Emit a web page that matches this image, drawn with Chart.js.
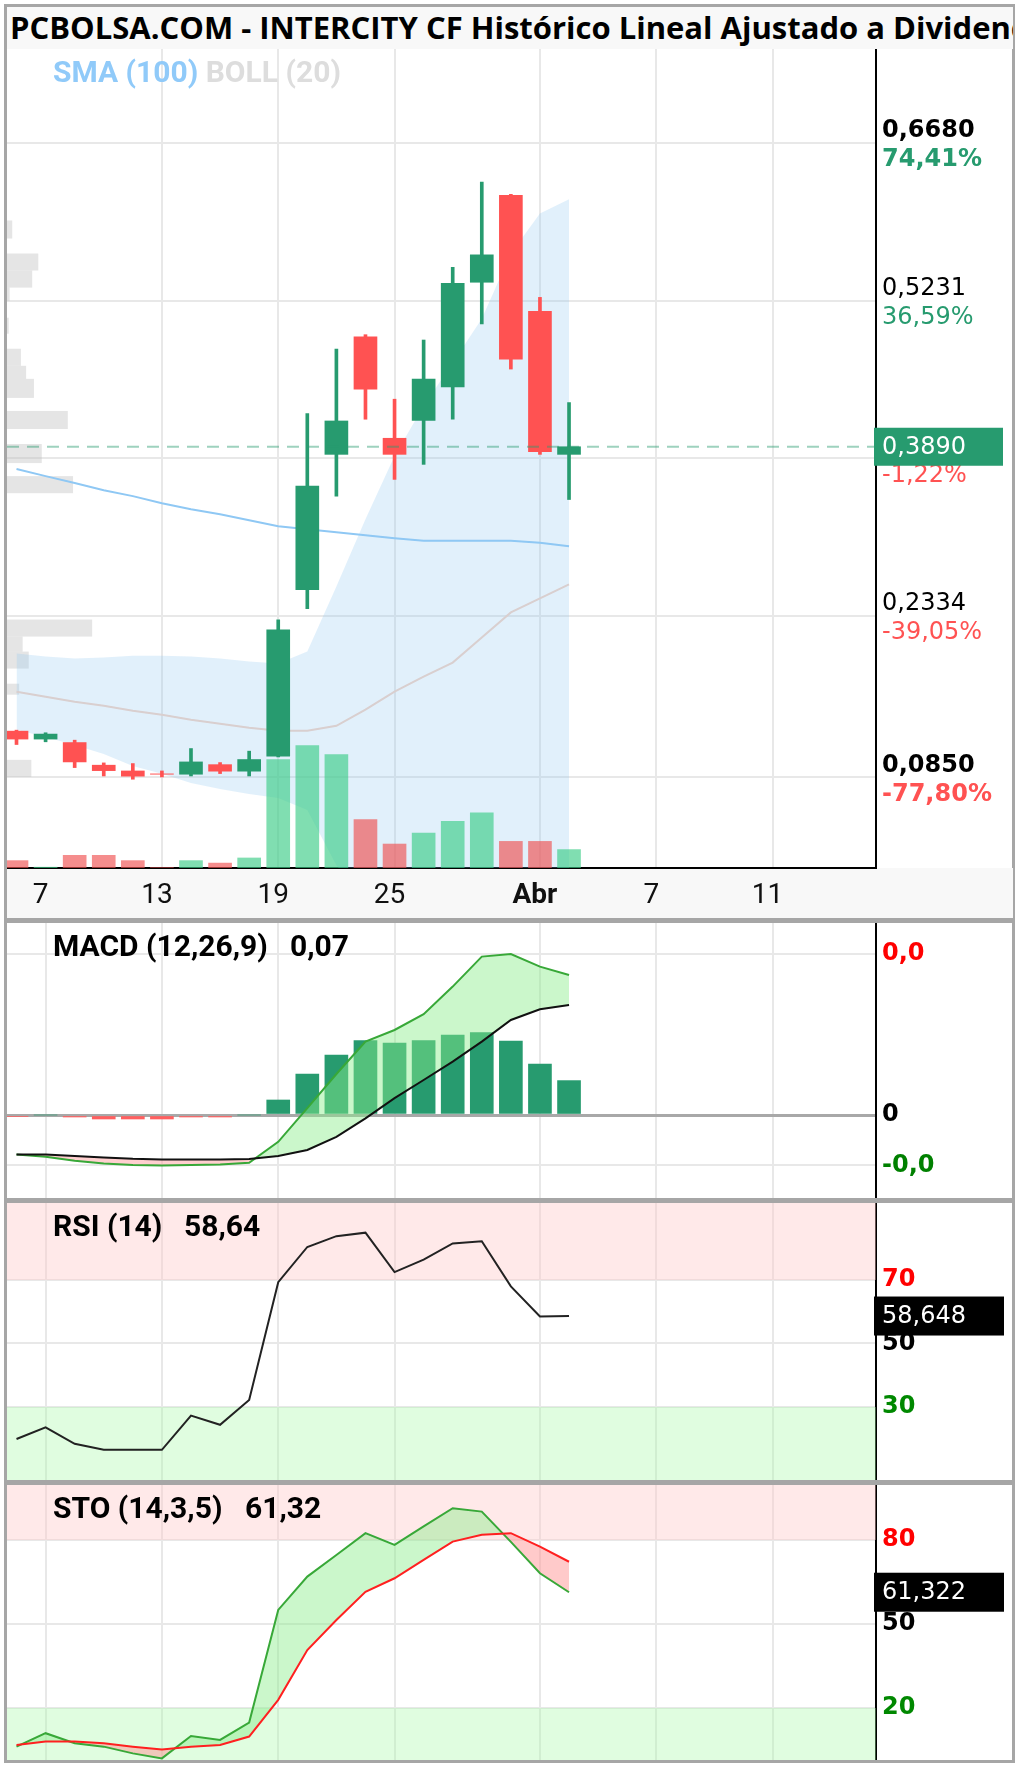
<!DOCTYPE html>
<html>
<head>
<meta charset="utf-8">
<script src="https://cdn.jsdelivr.net/npm/chart.js@4.4.1/dist/chart.umd.min.js"></script>
<style>
  body { margin: 0; background: #fff; width: 1020px; height: 1767px; position: relative; overflow: hidden; }
  .abs { position: absolute; }
  #frame { left: 4px; top: 4px; width: 1011px; height: 1759px; box-sizing: border-box; border: 3px solid #a6a6a6; }
  .sep { left: 4px; width: 1011px; height: 5px; background: #a6a6a6; }
  #title { left: 7px; top: 7px; width: 1006px; height: 42px; background: #f8f8f8; font: bold 31px 'Open Sans'; line-height: 40px;
           white-space: nowrap; overflow: hidden; padding-left: 3px; box-sizing: border-box; color: #000; }
  canvas { position: absolute; left: 7px; }
</style>
</head>
<body>
<div id="frame" class="abs"></div>
<div id="title" class="abs">PCBOLSA.COM - INTERCITY CF Histórico Lineal Ajustado a Dividendos</div>
<canvas id="mainChart" width="1006" height="869" style="top:49px"></canvas>
<div class="abs sep" style="top:918px"></div>
<canvas id="macdChart" width="1006" height="275" style="top:923px"></canvas>
<div class="abs sep" style="top:1198px"></div>
<canvas id="rsiChart" width="1006" height="277" style="top:1203px"></canvas>
<div class="abs sep" style="top:1480px"></div>
<canvas id="stoChart" width="1006" height="275" style="top:1485px"></canvas>

<script>
// ** Data
const dates = ['6 Mar', '7 Mar', '8 Mar', '11 Mar', '12 Mar', '13 Mar', '14 Mar', '15 Mar', '18 Mar', '19 Mar',
  '20 Mar', '21 Mar', '22 Mar', '25 Mar', '26 Mar', '27 Mar', '28 Mar', '29 Mar', '1 Abr', '2 Abr']
const open = [0.1276, 0.1203, 0.1171, 0.0963, 0.0910, 0.0883, 0.0880, 0.0968, 0.0908, 0.1046,
  0.2576, 0.3820, 0.4901, 0.3968, 0.4133, 0.4440, 0.5402, 0.6201, 0.5134, 0.3820]
const close = [0.1203, 0.1249, 0.0993, 0.0913, 0.0862, 0.0880, 0.0993, 0.0908, 0.1015, 0.2207,
  0.3528, 0.4127, 0.4419, 0.3820, 0.4511, 0.5392, 0.5654, 0.4696, 0.3844, 0.3890]
const high = [0.1285, 0.1261, 0.1193, 0.0984, 0.0978, 0.0910, 0.1116, 0.0987, 0.1092, 0.2299,
  0.4194, 0.4788, 0.4920, 0.4327, 0.4871, 0.5540, 0.6323, 0.6210, 0.5263, 0.4296]
const low = [0.1153, 0.1178, 0.0941, 0.0864, 0.0834, 0.0855, 0.0864, 0.0886, 0.0864, 0.1040,
  0.2401, 0.3436, 0.4143, 0.3590, 0.3728, 0.4143, 0.5018, 0.4604, 0.3820, 0.3405]
const volume = [36, 4, 62, 62, 36, 2, 36, 24, 49, 529, 598, 554, 236, 117, 171, 228, 269, 130, 130, 90]

const sma100 = [0.3685, 0.3620, 0.3556, 0.3491, 0.3436, 0.3371, 0.3316, 0.3270, 0.3215, 0.3159,
  0.3132, 0.3104, 0.3076, 0.3049, 0.3026, 0.3026, 0.3026, 0.3026, 0.3007, 0.2975]
const bollUp = [0.1989, 0.1961, 0.1943, 0.1952, 0.1970, 0.1970, 0.1961, 0.1943, 0.1915, 0.1897,
  0.2008, 0.2606, 0.3224, 0.3804, 0.4265, 0.4662, 0.5067, 0.5666, 0.6035, 0.6164]
const bollMid = [0.1639, 0.1592, 0.1546, 0.1509, 0.1463, 0.1427, 0.1380, 0.1344, 0.1307, 0.1279,
  0.1279, 0.1325, 0.1473, 0.1639, 0.1777, 0.1906, 0.2136, 0.2367, 0.2496, 0.2625]
const bollLow = [0.1289, 0.1223, 0.1149, 0.1066, 0.0956, 0.0884, 0.0799, 0.0745, 0.0699, 0.0661,
  0.0550, 0.0044, -0.0278, -0.0526, -0.0711, -0.0850, -0.0795, -0.0932, -0.1043, -0.0914]

// volume profile by price band
const profLow = [0.5804, 0.5510, 0.5353, 0.5233, 0.4929, 0.4634, 0.4514, 0.4339, 0.4053, 0.3740,
  0.3463, 0.2145, 0.2007, 0.1851, 0.1611, 0.0855]
const profHigh = [0.5970, 0.5666, 0.5510, 0.5353, 0.5076, 0.4791, 0.4634, 0.4514, 0.4219, 0.3915,
  0.3620, 0.2302, 0.2145, 0.2007, 0.1712, 0.1012]
const profVol = [6, 36, 29, 3, 2, 16, 22, 31, 70, 40, 76, 98, 18, 25, 14, 28]

const priceTicks = [0.6680, 0.5231, 0.3783, 0.2334, 0.0850]
const priceText = ['0,6680', '0,5231', '0,3783', '0,2334', '0,0850']
const pctText = ['74,41%', '36,59%', '-1,22%', '-39,05%', '-77,80%']

const macd = [-0.0197, -0.0209, -0.0229, -0.0242, -0.0250, -0.0252, -0.0250, -0.0247, -0.0239, -0.0134,
  0.0034, 0.0205, 0.0367, 0.0425, 0.0504, 0.0642, 0.0792, 0.0805, 0.0742, 0.0700]
const signal = [-0.0197, -0.0197, -0.0205, -0.0212, -0.0219, -0.0222, -0.0222, -0.0222, -0.0220, -0.0205,
  -0.0175, -0.0109, -0.0017, 0.0084, 0.0175, 0.0267, 0.0367, 0.0475, 0.0529, 0.0550]
const hist = [-0.0008, 0, -0.0010, -0.0020, -0.0020, -0.0020, -0.0010, -0.0010, 0, 0.0075,
  0.0204, 0.0300, 0.0372, 0.0359, 0.0372, 0.0400, 0.0412, 0.0370, 0.0255, 0.0172]
const macdText = ['-0,0', '0', '0,0']

const rsi = [19.9, 23.6, 18.4, 16.5, 16.5, 16.5, 27.3, 24.4, 32.2, 69.3,
  80.4, 83.8, 84.9, 72.5, 76.4, 81.5, 82.2, 68.0, 58.5, 58.648]
const rsiLevels = [30, 50, 70]

const stoK = [6.2, 11.0, 7.4, 6.2, 3.8, 2.0, 10.0, 8.6, 14.8, 55.0,
  66.9, 74.6, 82.4, 78.2, 84.8, 91.3, 90.1, 79.3, 68.1, 61.322]
const stoD = [6.8, 8.0, 8.0, 7.4, 6.2, 5.2, 6.2, 6.8, 9.8, 22.9,
  40.7, 51.4, 61.5, 66.3, 72.9, 79.4, 81.8, 82.4, 77.6, 72.2]
const stoLevels = [20, 50, 80]

const tickPos = [1, 5, 9, 13, 18, 22, 26]
const tickLabels = ['7', '13', '19', '25', 'Abr', '7', '11']

// ** Styles
const GREEN = '#279b6f'
const RED = '#ff5252'
const xMin = -0.327
const xMax = 29.556
const AXIS_W = 137
const LABEL_FONT = 'bold 30px Roboto'
const pts = arr => arr.map((y, x) => ({ x, y }))
const flat = v => [{ x: xMin, y: v }, { x: xMax, y: v }]
const comma = (v, d) => v.toFixed(d).replace('.', ',')
const trunc2 = v => (Math.floor(v * 100) / 100).toFixed(2).replace('.', ',')

Chart.defaults.animation = false
Chart.defaults.responsive = false
Chart.defaults.devicePixelRatio = 1
Chart.defaults.plugins.legend.display = false
Chart.defaults.plugins.tooltip.enabled = false

const up = close.map((c, i) => c >= open[i])
const candleColors = up.map(u => (u ? GREEN : RED))
const volColors = up.map(u => (u ? 'rgba(60,205,135,0.65)' : 'rgba(240,80,80,0.65)'))

// no label padding: chart area fills the panel
const noPad = s => { s.paddingTop = 0; s.paddingBottom = 0; s.paddingLeft = 0; s.paddingRight = 0 }

function xAxis(withLabels, hideFirst) {
  return {
    type: 'linear', min: xMin, max: xMax, offset: false, bounds: 'data',
    afterBuildTicks: s => { s.ticks = tickPos.map(v => ({ value: v })) },
    afterFit: s => { s.height = withLabels ? 50 : 0; noPad(s) },
    grid: {
      color: c => (hideFirst && c.index === 0 ? 'rgba(0,0,0,0)' : '#e8e8e8'),
      lineWidth: 2, drawTicks: false, offset: false
    },
    border: withLabels ? { color: '#000', width: 2 } : { display: false },
    ticks: withLabels ? {
      autoSkip: false, maxRotation: 0, padding: 11, labelOffset: -5, color: '#111',
      font: c => ({ family: 'Roboto', size: 28, weight: tickLabels[c.index] === 'Abr' ? 'bold' : 'normal' }),
      callback: (v, i) => tickLabels[i]
    } : { display: false }
  }
}

function sideAxis(min, max, values, texts, colors, gridColor) {
  return {
    type: 'linear', position: 'right', min, max, bounds: 'data',
    afterBuildTicks: s => { s.ticks = values.map(v => ({ value: v })) },
    afterFit: s => { s.width = AXIS_W; noPad(s) },
    grid: { color: gridColor || '#e8e8e8', lineWidth: c => (gridColor && c.tick && c.tick.value === 0 ? 3 : 2), drawTicks: false },
    border: { color: '#000', width: 2 },
    ticks: {
      padding: 6, color: c => colors[c.index],
      font: { family: 'DejaVu Sans', size: 24, weight: 'bold' },
      callback: (v, i) => texts[i]
    }
  }
}

// panel title plugin
function panelTitle(name, value, valueX) {
  return {
    id: 'panelTitle',
    afterDraw(chart) {
      const ctx = chart.ctx
      ctx.save()
      ctx.font = LABEL_FONT
      ctx.fillStyle = '#000'
      ctx.textBaseline = 'middle'
      ctx.fillText(name, 46, 25)
      ctx.fillText(value, valueX, 25)
      ctx.restore()
    }
  }
}

// last value box plugin
function lastBox(values, color) {
  return {
    id: 'lastBox',
    afterDraw(chart) {
      const { ctx, chartArea: a, scales: { y } } = chart
      const v = values[values.length - 1]
      const py = y.getPixelForValue(v)
      ctx.save()
      ctx.fillStyle = color
      ctx.fillRect(a.right - 2, py - 19.5, 130, 39)
      ctx.fillStyle = '#fff'
      ctx.font = '24px "DejaVu Sans"'
      ctx.textBaseline = 'middle'
      ctx.fillText(comma(v, 3), a.right + 6, py + 1)
      ctx.restore()
    }
  }
}

// ** Main price chart
const mainDecor = {
  id: 'mainDecor',
  beforeDraw(chart) {
    const { ctx, chartArea: a, width, height } = chart
    ctx.save()
    ctx.fillStyle = '#f8f8f8'
    ctx.fillRect(0, a.bottom, width, height - a.bottom)
    ctx.restore()
  },
  beforeDatasetsDraw(chart) {
    const { ctx, scales: { xp, y } } = chart
    ctx.save()
    ctx.fillStyle = 'rgba(190,190,190,0.4)'
    profVol.forEach((v, i) => {
      const y1 = y.getPixelForValue(profHigh[i])
      const y2 = y.getPixelForValue(profLow[i])
      const x0 = xp.getPixelForValue(0)
      ctx.fillRect(x0, y1, xp.getPixelForValue(v) - x0, y2 - y1)
    })
    ctx.restore()
  },
  afterDraw(chart) {
    const { ctx, chartArea: a, scales: { y } } = chart
    ctx.save()
    ctx.textBaseline = 'middle'
    priceTicks.forEach((v, i) => {
      const py = y.getPixelForValue(v)
      const bold = i === 0 || i === priceTicks.length - 1
      ctx.font = (bold ? 'bold ' : '') + '24px "DejaVu Sans"'
      ctx.fillStyle = '#000'
      ctx.fillText(priceText[i], a.right + 6, py - 12)
      ctx.fillStyle = pctText[i].startsWith('-') ? RED : GREEN
      ctx.fillText(pctText[i], a.right + 6, py + 17)
    })
    const last = close[close.length - 1]
    const py = y.getPixelForValue(last)
    ctx.fillStyle = GREEN
    ctx.fillRect(a.right - 2, py - 19, 129, 38)
    ctx.fillStyle = '#fff'
    ctx.font = '24px "DejaVu Sans"'
    ctx.fillText(comma(last, 4), a.right + 6, py + 1)

    ctx.font = LABEL_FONT
    ctx.fillStyle = '#90caf9'
    ctx.fillText('SMA (100)', 46, 25)
    const w = ctx.measureText('SMA (100) ').width
    ctx.fillStyle = '#dddddd'
    ctx.fillText('BOLL (20)', 46 + w, 25)
    ctx.restore()
  }
}

new Chart(document.getElementById('mainChart'), {
  type: 'bar',
  data: {
    labels: dates,
    datasets: [
      { type: 'line', data: pts(bollUp), borderColor: 'rgba(0,0,0,0)', pointRadius: 0, fill: '+1', backgroundColor: 'rgba(135,195,239,0.25)', order: 10 },
      { type: 'line', data: pts(bollLow), borderColor: 'rgba(0,0,0,0)', pointRadius: 0, fill: false, order: 10 },
      { type: 'line', data: pts(bollMid), borderColor: '#d9cfcf', borderWidth: 2, pointRadius: 0, fill: false, order: 9 },
      { type: 'bar', yAxisID: 'yv', data: pts(volume), backgroundColor: volColors, barThickness: 23, grouped: false, order: 8 },
      { type: 'line', data: pts(sma100), borderColor: '#8fc8f4', borderWidth: 2, pointRadius: 0, fill: false, order: 5 },
      { type: 'bar', data: low.map((l, i) => ({ x: i, y: [l, high[i]] })), backgroundColor: candleColors, barThickness: 3, grouped: false, order: 3 },
      { type: 'bar', data: open.map((o, i) => ({ x: i, y: [o, close[i]] })), backgroundColor: candleColors, barThickness: 23, grouped: false, order: 2 },
      { type: 'line', data: flat(close[close.length - 1]), borderColor: 'rgba(39,155,111,0.45)', borderWidth: 2, borderDash: [12, 8], pointRadius: 0, fill: false, order: 1 }
    ]
  },
  options: {
    layout: { padding: 0 },
    scales: {
      x: xAxis(true, true),
      xp: {
        type: 'linear', position: 'bottom', min: 0, max: 1000, offset: false, bounds: 'data',
        grid: { display: false }, border: { display: false }, ticks: { display: false },
        afterFit: s => { s.height = 0; noPad(s) }
      },
      y: {
        type: 'linear', position: 'right', min: 0.0018, max: 0.7546, bounds: 'data',
        afterBuildTicks: s => { s.ticks = priceTicks.map(v => ({ value: v })) },
        afterFit: s => { s.width = AXIS_W; noPad(s) },
        grid: { color: '#e8e8e8', lineWidth: 2, drawTicks: false },
        border: { color: '#000', width: 2 },
        ticks: { display: false }
      },
      yv: { type: 'linear', display: false, min: 0, max: 4000 }
    }
  },
  plugins: [mainDecor]
})

// ** MACD
new Chart(document.getElementById('macdChart'), {
  type: 'bar',
  data: {
    datasets: [
      { type: 'bar', data: pts(hist), backgroundColor: hist.map(v => (v >= 0 ? GREEN : '#ff5f5f')), barThickness: 23, order: 3 },
      { type: 'line', data: pts(macd), borderColor: '#38a838', borderWidth: 2, pointRadius: 0,
        fill: { target: 2, above: 'rgba(140,238,140,0.45)', below: 'rgba(255,160,160,0.5)' }, order: 2 },
      { type: 'line', data: pts(signal), borderColor: '#111', borderWidth: 2, pointRadius: 0, fill: false, order: 1 }
    ]
  },
  options: {
    scales: {
      x: xAxis(false, false),
      y: sideAxis(-0.0415, 0.096, [Math.min(...macd), 0, Math.max(...macd)], macdText, ['#008000', '#000', '#ff0000'],
        c => (c.tick && c.tick.value === 0 ? '#a8a8a8' : '#e8e8e8'))
    }
  },
  plugins: [panelTitle('MACD (12,26,9)', comma(macd[macd.length - 1], 2), 283)]
})

// ** RSI
new Chart(document.getElementById('rsiChart'), {
  type: 'line',
  data: {
    datasets: [
      { data: flat(rsiLevels[2]), borderColor: 'rgba(0,0,0,0)', pointRadius: 0, fill: 'end', backgroundColor: 'rgba(255,200,200,0.4)', order: 5 },
      { data: flat(rsiLevels[0]), borderColor: 'rgba(0,0,0,0)', pointRadius: 0, fill: 'start', backgroundColor: 'rgba(165,250,165,0.35)', order: 5 },
      { data: pts(rsi), borderColor: '#222', borderWidth: 2, pointRadius: 0, fill: false, order: 1 }
    ]
  },
  options: {
    scales: {
      x: xAxis(false, false),
      y: sideAxis(7.0, 94.25, rsiLevels, rsiLevels.map(String), ['#008800', '#000', '#ff0000'])
    }
  },
  plugins: [panelTitle('RSI (14)', trunc2(rsi[rsi.length - 1]), 177), lastBox(rsi, '#000')]
})

// ** Stochastic
new Chart(document.getElementById('stoChart'), {
  type: 'line',
  data: {
    datasets: [
      { data: flat(stoLevels[2]), borderColor: 'rgba(0,0,0,0)', pointRadius: 0, fill: 'end', backgroundColor: 'rgba(255,200,200,0.4)', order: 5 },
      { data: flat(stoLevels[0]), borderColor: 'rgba(0,0,0,0)', pointRadius: 0, fill: 'start', backgroundColor: 'rgba(165,250,165,0.35)', order: 5 },
      { data: pts(stoK), borderColor: '#38a838', borderWidth: 2, pointRadius: 0,
        fill: { target: 3, above: 'rgba(140,238,140,0.45)', below: 'rgba(255,150,150,0.5)' }, order: 2 },
      { data: pts(stoD), borderColor: '#ff2020', borderWidth: 2, pointRadius: 0, fill: false, order: 1 }
    ]
  },
  options: {
    scales: {
      x: xAxis(false, false),
      y: sideAxis(1.43, 99.6, stoLevels, stoLevels.map(String), ['#008800', '#000', '#ff0000'])
    }
  },
  plugins: [panelTitle('STO (14,3,5)', trunc2(stoK[stoK.length - 1]), 238), lastBox(stoK, '#000')]
})
</script>
</body>
</html>
